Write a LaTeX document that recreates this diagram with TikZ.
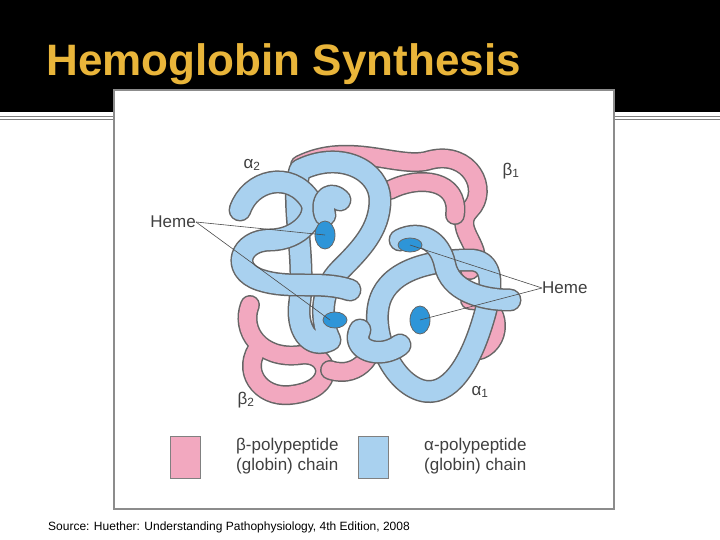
\documentclass[tikz,border=0pt]{standalone}
\usepackage{fontspec}
\setmainfont{Liberation Sans}
\begin{document}
\begin{tikzpicture}[x=1pt,y=-1pt,
 lbl/.style={font=\fontsize{17}{20}\selectfont, text=black!75, inner sep=0pt},
 pinkline/.style={draw=black!60,line width=20pt,line cap=round,line join=round,postaction={draw=pinkc,line width=17pt}},
 blueline/.style={draw=black!60,line width=23pt,line cap=round,line join=round,postaction={draw=bluec,line width=20pt}},
 hemec/.style={draw=black!60,fill=hemeb,line width=0.8pt},
 ptr/.style={draw=black!70,line width=0.6pt}]
\definecolor{pinkc}{HTML}{F2A8BF}
\definecolor{bluec}{HTML}{A9D1EF}
\definecolor{hemeb}{HTML}{2E95D8}
\definecolor{gold}{HTML}{E9B53A}
\useasboundingbox (0,0) rectangle (720,540);
\fill[white] (0,0) rectangle (720,540);
\fill[black] (0,0) rectangle (720,112);
\node[anchor=west,text=gold,font=\fontsize{44}{46}\selectfont\bfseries] (title) at (43,64) {Hemoglobin Synthesis};
\draw[black!50,line width=0.8pt] (0,116) -- (720,116) (0,119) -- (720,119);
\draw[black!45,fill=white,line width=2.5pt] (114,90) rectangle (614,509);
% pink chains
\draw[pinkline] (300,165) .. controls (350,140) and (400,170) .. (430,160) .. controls (470,150) and (490,190) .. (470,210) .. controls (450,230) and (490,250) .. (470,270);
\draw[pinkline] (390,190) .. controls (420,175) and (460,180) .. (455,215);
\draw[pinkline] (250,305) .. controls (240,330) and (260,360) .. (300,355) .. controls (330,350) and (340,390) .. (290,395) .. controls (260,398) and (240,370) .. (260,345);
\draw[pinkline] (330,370) .. controls (360,380) and (380,350) .. (370,330);
\draw[pinkline] (470,300) .. controls (500,300) and (505,340) .. (480,350);
% blue alpha2
\draw[blueline] (300,170) .. controls (340,150) and (380,170) .. (380,200) .. controls (380,230) and (360,250) .. (340,270) .. controls (320,290) and (320,320) .. (330,340) .. controls (310,350) and (295,330) .. (300,300) .. controls (305,250) and (290,200) .. (300,170);
\draw[blueline] (240,210) .. controls (250,180) and (290,170) .. (310,200) .. controls (320,215) and (300,240) .. (270,240) .. controls (240,240) and (230,270) .. (260,280) .. controls (290,290) and (320,280) .. (350,290);
\draw[blueline] (340,200) .. controls (330,190) and (320,200) .. (325,215);
% blue alpha1
\draw[blueline] (380,300) .. controls (390,270) and (430,260) .. (470,260) .. controls (500,260) and (490,300) .. (480,330) .. controls (470,360) and (450,400) .. (420,390) .. controls (390,380) and (370,330) .. (380,300);
\draw[blueline] (400,240) .. controls (420,230) and (440,240) .. (445,265) .. controls (450,290) and (480,300) .. (510,300);
\draw[blueline] (360,330) .. controls (350,350) and (380,360) .. (400,345);
% hemes
\draw[hemec] (325,235) ellipse (10 and 14);
\draw[hemec] (335,320) ellipse (12 and 8);
\draw[hemec] (410,245) ellipse (12 and 7);
\draw[hemec] (420,320) ellipse (10 and 14);
\node[lbl] (a2) at (252,165) {α\textsubscript{2}};
\node[lbl] (b1) at (511,171) {β\textsubscript{1}};
\node[lbl] (b2) at (246,400) {β\textsubscript{2}};
\node[lbl] (a1) at (480,392) {α\textsubscript{1}};
\node[lbl,anchor=east] (hl) at (196,222) {Heme};
\node[lbl,anchor=west] (hr) at (542,288) {Heme};
\coordinate (h1) at (325,235); \coordinate (h2) at (330,320);
\coordinate (h3) at (410,245); \coordinate (h4) at (420,320);
\draw[ptr] (hl.east) -- (h1); \draw[ptr] (hl.east) -- (h2);
\draw[ptr] (hr.west) -- (h3); \draw[ptr] (hr.west) -- (h4);
% legend
\draw[black!50,fill=pinkc] (170,436) rectangle (200,478);
\draw[black!50,fill=bluec] (358,436) rectangle (388,478);
\node[lbl,anchor=north west,align=left] (lb) at (236,438) {β-polypeptide\\(globin) chain};
\node[lbl,anchor=north west,align=left] (la) at (424,438) {α-polypeptide\\(globin) chain};
\node[anchor=west,font=\fontsize{12}{13}\selectfont,inner sep=0pt] (src) at (48,527) {Source: Huether: Understanding Pathophysiology, 4th Edition, 2008};
\end{tikzpicture}
\end{document}
